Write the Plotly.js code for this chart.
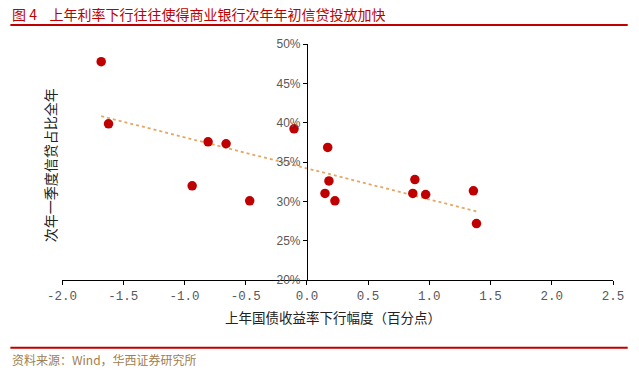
<!DOCTYPE html>
<html><head><meta charset="utf-8">
<script src="https://cdn.plot.ly/plotly-3.0.1.min.js"></script>
<style>html,body{margin:0;padding:0;background:#fff}#chart{width:639px;height:372px}</style>
</head><body><div id="chart"></div>
<script>
// Data
const yieldDrop = [-1.68, -1.62, -0.807, -0.66, -0.937, -0.467, -0.105, 0.17, 0.18, 0.148, 0.229, 0.882, 0.865, 0.97, 1.36, 1.385];
const q1Share = [47.75, 39.86, 37.57, 37.32, 31.97, 30.06, 39.22, 36.85, 32.6, 31.0, 30.06, 32.77, 31.0, 30.87, 31.34, 27.18];
const xTickVals = [-2.0, -1.5, -1.0, -0.5, 0.0, 0.5, 1.0, 1.5, 2.0, 2.5];
const xTickText = ["-2.0", "-1.5", "-1.0", "-0.5", "0.0", "0.5", "1.0", "1.5", "2.0", "2.5"];
const yTickVals = [20, 25, 30, 35, 40, 45, 50];
const yTickText = ["20%", "25%", "30%", "35%", "40%", "45%", "50%"];
const titleText = "图&nbsp;4&nbsp;&nbsp;&nbsp;&nbsp;上年利率下行往往使得商业银行次年年初信贷投放加快";
const xTitle = "上年国债收益率下行幅度（百分点）";
const yTitle = "次年一季度信贷占比全年";
const sourceText = "资料来源：Wind，华西证券研究所";

// Linear trendline (least squares) fitted from the data
const n = yieldDrop.length;
const mx = yieldDrop.reduce((a, b) => a + b, 0) / n;
const my = q1Share.reduce((a, b) => a + b, 0) / n;
let sxy = 0, sxx = 0;
for (let i = 0; i < n; i++) { sxy += (yieldDrop[i] - mx) * (q1Share[i] - my); sxx += (yieldDrop[i] - mx) ** 2; }
const slope = sxy / sxx, icpt = my - slope * mx;
const xmin = Math.min(...yieldDrop), xmax = Math.max(...yieldDrop);
const trendX = [xmin, xmax];
const trendY = trendX.map(v => icpt + slope * v);

const cjk = '"Noto Sans CJK SC", sans-serif';
const traces = [
  {x: trendX, y: trendY, mode: 'lines', line: {color: '#E2A865', width: 1.8, dash: 'dot'}, hoverinfo: 'skip'},
  {x: yieldDrop, y: q1Share, mode: 'markers', marker: {color: '#C00000', size: 9.5}}
];
const layout = {
  width: 639, height: 372, showlegend: false,
  paper_bgcolor: '#fff', plot_bgcolor: '#fff',
  margin: {l: 61.7, r: 25.7, t: 44.3, b: 92},
  xaxis: {range: [-2, 2.5], tickvals: xTickVals, ticktext: xTickText, showgrid: false, zeroline: false,
    showline: true, linecolor: '#000', linewidth: 1, ticks: 'outside', ticklen: 4, tickcolor: '#000',
    tickfont: {family: '"Liberation Mono", monospace', size: 12.5, color: '#595959'}},
  yaxis: {range: [20, 50], tickvals: yTickVals, ticktext: yTickText, showgrid: false, zeroline: false,
    anchor: 'free', position: 4/9,
    showline: true, linecolor: '#000', linewidth: 1, ticks: 'outside', ticklen: 4, tickcolor: '#000',
    tickfont: {family: '"Liberation Sans", Arial, sans-serif', size: 12, color: '#595959'}},
  shapes: [
    {type: 'line', xref: 'paper', yref: 'paper', x0: -0.0937, x1: 1.0267, y0: 1.0806, y1: 1.0806, line: {color: '#C00000', width: 2}},
    {type: 'line', xref: 'paper', yref: 'paper', x0: -0.0937, x1: 1.0267, y0: -0.2872, y1: -0.2872, line: {color: '#C00000', width: 2}}
  ],
  annotations: [
    {text: titleText, xref: 'paper', yref: 'paper', x: -0.0937, y: 1.1285, xanchor: 'left', yanchor: 'middle', showarrow: false,
      font: {family: cjk, size: 14, color: '#C00000'}},
    {text: xTitle, xref: 'paper', yref: 'paper', x: 0.4918, y: -0.157, xanchor: 'center', yanchor: 'middle', showarrow: false,
      font: {family: cjk, size: 13.5, color: '#222'}},
    {text: yTitle, xref: 'paper', yref: 'paper', x: -0.0212, y: 0.488, xanchor: 'center', yanchor: 'middle', textangle: -90, showarrow: false,
      font: {family: cjk, size: 14, color: '#222'}},
    {text: sourceText, xref: 'paper', yref: 'paper', x: -0.0937, y: -0.335, xanchor: 'left', yanchor: 'middle', showarrow: false,
      font: {family: cjk, size: 12, color: '#A0804F'}}
  ]
};
Plotly.newPlot('chart', traces, layout, {staticPlot: true, displayModeBar: false});
</script></body></html>
